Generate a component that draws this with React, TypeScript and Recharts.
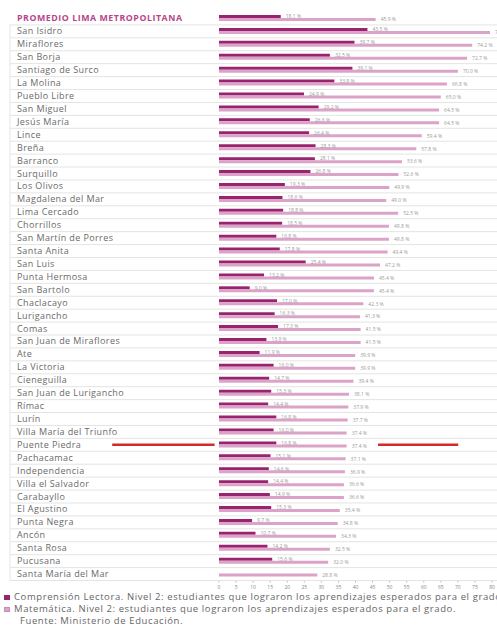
import React from 'react';
import { BarChart, Bar, XAxis, YAxis, LabelList, ReferenceLine } from 'recharts';

const districts = [
  'PROMEDIO LIMA METROPOLITANA', 'San Isidro', 'Miraflores', 'San Borja', 'Santiago de Surco', 'La Molina',
  'Pueblo Libre', 'San Miguel', 'Jesús María', 'Lince', 'Breña', 'Barranco', 'Surquillo', 'Los Olivos',
  'Magdalena del Mar', 'Lima Cercado', 'Chorrillos', 'San Martín de Porres', 'Santa Anita', 'San Luis',
  'Punta Hermosa', 'San Bartolo', 'Chaclacayo', 'Lurigancho', 'Comas', 'San Juan de Miraflores', 'Ate',
  'La Victoria', 'Cieneguilla', 'San Juan de Lurigancho', 'Rímac', 'Lurín', 'Villa María del Triunfo',
  'Puente Piedra', 'Pachacamac', 'Independencia', 'Villa el Salvador', 'Carabayllo', 'El Agustino',
  'Punta Negra', 'Ancón', 'Santa Rosa', 'Pucusana', 'Santa María del Mar',
];

const lectora = [
  18.1, 43.5, 39.7, 32.5, 39.1, 33.8, 24.9, 29.2, 26.6, 26.4, 28.3, 28.1, 26.8, 19.3,
  18.6, 18.8, 18.5, 16.8, 17.8, 25.4, 13.2, 9.0, 17.0, 16.3, 17.3, 13.9, 11.9,
  16.0, 14.7, 15.3, 14.4, 16.8, 16.0, 16.8, 15.1, 14.6, 14.4, 14.9, 15.3,
  9.7, 10.7, 14.2, 15.6, 0.0,
];

const matematica = [
  45.9, 79.4, 74.2, 72.7, 70.0, 66.8, 65.0, 64.5, 64.5, 59.4, 57.8, 53.6, 52.6, 49.9,
  49.0, 52.5, 49.8, 49.8, 49.4, 47.2, 45.4, 45.4, 42.3, 41.3, 41.5, 41.5, 39.9,
  39.9, 39.4, 38.1, 37.9, 37.7, 37.4, 37.4, 37.1, 36.9, 36.6, 36.6, 35.4,
  34.8, 34.3, 32.5, 32.0, 28.8,
];

const xTicks = [0, 5, 10, 15, 20, 25, 30, 35, 40, 45, 50, 55, 60, 65, 70, 75, 80];

const legendItems = [
  'Comprensión Lectora. Nivel 2: estudiantes que lograron los aprendizajes esperados para el grado',
  'Matemática. Nivel 2: estudiantes que lograron los aprendizajes esperados para el grado.',
];
const sourceText = 'Fuente: Ministerio de Educación.';

const data = districts.map((name, i) => ({ name, lectora: lectora[i], matematica: matematica[i] }));

const DARK = '#9a2370';
const LIGHT = '#dba3c7';
const FONT = '"Open Sans", "Noto Sans", sans-serif';

const CHART_W = 497;
const CHART_H = 600;
const MARGIN = { top: 12, right: 5, left: 0, bottom: 0 };
const X_AXIS_H = 19.5;
const ROW = (CHART_H - MARGIN.top - MARGIN.bottom - X_AXIS_H) / districts.length;

const CatTick = (props: any) => {
  const { y, payload, index } = props;
  const isTitle = index === 0;
  return (
    <g>
      <text
        x={17}
        y={y}
        dy={3}
        fontSize={isTitle ? 8.8 : 9}
        fontWeight={isTitle ? 700 : 400}
        fill={isTitle ? '#b5468a' : '#6a6a6a'}
        fontFamily={FONT}
        letterSpacing={isTitle ? 0.55 : 0.4}
        textAnchor="start"
      >
        {payload.value}
      </text>
      <line x1={10} x2={497} y1={y + ROW / 2} y2={y + ROW / 2} stroke="#e4e4e4" strokeWidth={1} />
      {!isTitle && (
        <line x1={10} x2={10} y1={y - ROW / 2} y2={y + ROW / 2} stroke="#e4e4e4" strokeWidth={1} />
      )}
    </g>
  );
};

const fmt = (v: any) => `${Number(v).toFixed(1)} %`;

const ValueLabel = (p: any) => {
  const x = Number(p.x) + Number(p.width) + 5;
  const y = Number(p.y) + Number(p.height) / 2;
  return (
    <text x={x} y={y} dy={1.8} fontSize={5} fill="#9a9a9a" fontFamily={FONT} textAnchor="start">
      {fmt(p.value)}
    </text>
  );
};

export default function App() {
  return (
    <div style={{ position: 'absolute', left: 0, top: 0, width: 497, height: 626, background: '#fff', overflow: 'hidden' }}>
      <BarChart
        width={CHART_W}
        height={CHART_H}
        data={data}
        layout="vertical"
        margin={MARGIN}
        barGap={0}
      >
        <XAxis
          type="number"
          domain={[0, 80]}
          ticks={xTicks}
          height={X_AXIS_H}
          tick={{ fontSize: 5, fill: '#888', fontFamily: FONT }}
          tickSize={2}
          tickMargin={3}
          axisLine={{ stroke: '#bbb' }}
          tickLine={{ stroke: '#bbb' }}
          interval={0}
        />
        <YAxis
          type="category"
          dataKey="name"
          width={219}
          tick={<CatTick />}
          axisLine={false}
          tickLine={false}
          interval={0}
        />
        <Bar dataKey="lectora" fill={DARK} barSize={3} isAnimationActive={false}>
          <LabelList dataKey="lectora" content={<ValueLabel />} />
        </Bar>
        <Bar dataKey="matematica" fill={LIGHT} barSize={3} isAnimationActive={false}>
          <LabelList dataKey="matematica" content={<ValueLabel />} />
        </Bar>
        <ReferenceLine
          segment={[{ x: -31.3, y: 'Puente Piedra' }, { x: -1.3, y: 'Puente Piedra' }]}
          stroke="#d42a2a"
          strokeWidth={2.5}
          ifOverflow="visible"
        />
        <ReferenceLine
          segment={[{ x: 46.6, y: 'Puente Piedra' }, { x: 70.1, y: 'Puente Piedra' }]}
          stroke="#d42a2a"
          strokeWidth={2.5}
          ifOverflow="visible"
        />
      </BarChart>
      <div style={{ position: 'absolute', left: 0, top: 591, width: 560, fontFamily: FONT, fontSize: 9.5, letterSpacing: '0.6px', color: '#666', lineHeight: '12px', whiteSpace: 'nowrap' }}>
        {legendItems.map((t, i) => (
          <div key={t} style={{ display: 'flex', alignItems: 'center' }}>
            <span style={{ display: 'inline-block', width: 6, height: 5, marginLeft: 4, marginRight: 4, background: i === 0 ? DARK : LIGHT, border: i === 0 ? 'none' : '1px solid #c58fb3', boxSizing: 'border-box' }} />
            <span>{t}</span>
          </div>
        ))}
        <div style={{ paddingLeft: 20 }}>{sourceText}</div>
      </div>
    </div>
  );
}
